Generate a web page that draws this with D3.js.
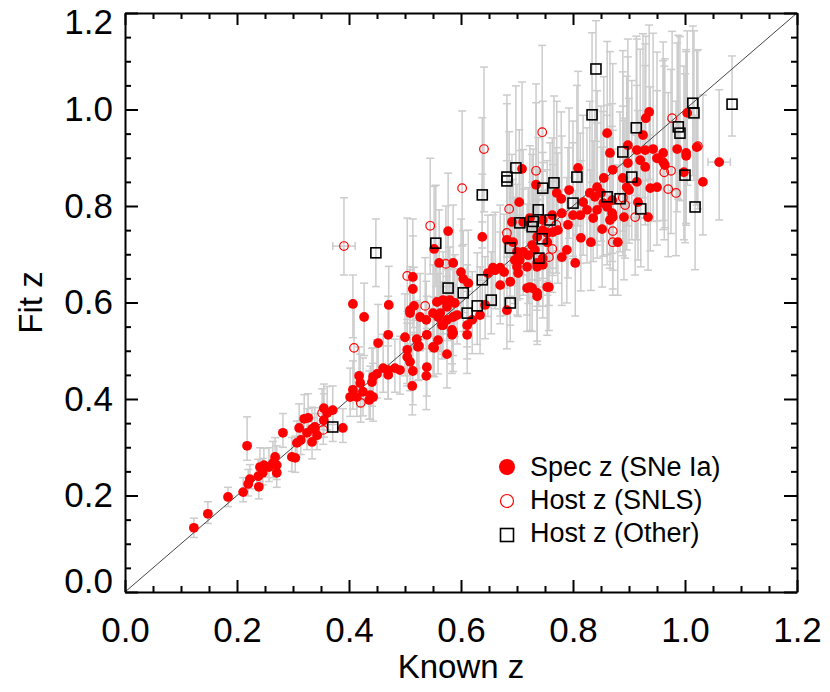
<!DOCTYPE html>
<html>
<head>
    <meta charset="utf-8" />
    <title>Fit z vs Known z</title>
    <script src="https://d3js.org/d3.v7.min.js"></script>
    <style type="text/css">
        body { margin: 0; background: #fff; }
        svg { display: block; }
        .axis path, .axis line { stroke: #000; stroke-width: 2; }
        .axis text { font-family: "Liberation Sans", Arial, sans-serif; font-size: 35px; fill: #000; }
        .ebar { stroke: #cccccc; stroke-width: 1.5; fill: none; }
        .one2one { stroke: #444; stroke-width: 1; }
        .spec { fill: #ff0000; }
        .snls { fill: none; stroke: #ff0000; stroke-width: 1.2; }
        .other { fill: none; stroke: #000; stroke-width: 1.6; }
        .title { font-family: "Liberation Sans", Arial, sans-serif; font-size: 33px; fill: #000; }
        .legend text { font-family: "Liberation Sans", Arial, sans-serif; font-size: 27px; fill: #000; }
    </style>
</head>
<body>
<svg></svg>
<script>

// [known z, fit z, fit error below, fit error above, known error]
var specZ = [
    [0.123,0.133,0.02,0.02],[0.148,0.162,0.02,0.025],[0.184,0.197,0.02,0.02],[0.211,0.207,0.02,0.03],
    [0.220,0.224,0.025,0.03],[0.223,0.234,0.02,0.03],[0.239,0.218,0.025,0.03],[0.218,0.303,0.03,0.06],
    [0.238,0.240,0.025,0.035],[0.241,0.259,0.03,0.04],[0.248,0.263,0.025,0.035],[0.257,0.259,0.03,0.04],
    [0.264,0.267,0.03,0.045],[0.268,0.280,0.025,0.04],[0.271,0.263,0.03,0.04],[0.271,0.247,0.03,0.035],
    [0.246,0.247,0.025,0.03],[0.298,0.280,0.03,0.04],[0.304,0.278,0.03,0.045],[0.282,0.330,0.03,0.04],
    [0.307,0.309,0.03,0.045],[0.314,0.315,0.03,0.04],[0.311,0.340,0.035,0.05],[0.320,0.359,0.035,0.05],
    [0.327,0.361,0.03,0.05],[0.325,0.330,0.035,0.05],[0.334,0.338,0.03,0.045],[0.334,0.311,0.035,0.05],
    [0.343,0.325,0.03,0.045],[0.339,0.342,0.03,0.04],[0.355,0.356,0.035,0.055],[0.355,0.381,0.035,0.05],
    [0.371,0.377,0.03,0.05],[0.361,0.371,0.035,0.055],[0.389,0.340,0.03,0.04],
    [0.407,0.597,0.07,0.06],[0.471,0.595,0.06,0.08],[0.427,0.570,0.08,0.07],[0.509,0.584,0.07,0.09],
    [0.516,0.593,0.06,0.08],[0.470,0.533,0.07,0.08],[0.452,0.516,0.06,0.08],[0.500,0.528,0.08,0.09],
    [0.527,0.570,0.07,0.09],[0.538,0.564,0.06,0.08],[0.550,0.578,0.08,0.10],[0.559,0.570,0.07,0.09],
    [0.568,0.553,0.06,0.08],[0.584,0.543,0.07,0.09],[0.584,0.533,0.08,0.10],[0.593,0.574,0.06,0.09],
    [0.611,0.553,0.07,0.10],[0.611,0.533,0.08,0.09],[0.575,0.493,0.07,0.09],[0.552,0.506,0.06,0.08],
    [0.559,0.522,0.07,0.09],[0.521,0.524,0.06,0.08],[0.525,0.510,0.07,0.09],[0.539,0.533,0.06,0.08],
    [0.504,0.502,0.07,0.08],[0.504,0.487,0.06,0.07],[0.509,0.477,0.06,0.08],[0.514,0.458,0.07,0.08],
    [0.539,0.466,0.06,0.08],[0.538,0.448,0.07,0.08],[0.491,0.460,0.05,0.07],[0.482,0.464,0.05,0.06],
    [0.470,0.460,0.06,0.07],[0.461,0.464,0.05,0.07],[0.470,0.450,0.05,0.06],[0.450,0.452,0.05,0.07],
    [0.443,0.446,0.05,0.06],[0.441,0.435,0.05,0.07],[0.418,0.448,0.05,0.06],[0.420,0.433,0.05,0.06],
    [0.425,0.415,0.05,0.07],[0.407,0.419,0.04,0.06],[0.402,0.404,0.04,0.06],[0.414,0.404,0.04,0.05],
    [0.438,0.408,0.05,0.06],[0.443,0.404,0.05,0.07],[0.436,0.398,0.04,0.06],[0.513,0.427,0.06,0.08],
    [0.577,0.748,0.08,0.12],[0.552,0.711,0.10,0.13],[0.638,0.736,0.09,0.13],[0.720,0.698,0.10,0.14],
    [0.727,0.719,0.09,0.13],[0.754,0.725,0.11,0.15],[0.561,0.682,0.08,0.11],[0.586,0.682,0.09,0.12],
    [0.600,0.663,0.08,0.11],[0.514,0.653,0.09,0.12],[0.514,0.628,0.08,0.11],[0.604,0.649,0.07,0.10],
    [0.613,0.640,0.08,0.11],[0.648,0.661,0.09,0.12],[0.661,0.667,0.08,0.12],[0.670,0.672,0.10,0.13],
    [0.677,0.663,0.09,0.12],[0.670,0.636,0.08,0.11],[0.688,0.643,0.09,0.12],[0.700,0.674,0.10,0.14],
    [0.696,0.688,0.09,0.13],[0.718,0.674,0.10,0.13],[0.736,0.674,0.09,0.14],[0.746,0.678,0.11,0.15],
    [0.718,0.630,0.09,0.12],[0.736,0.613,0.10,0.12],[0.727,0.630,0.09,0.13],[0.754,0.632,0.10,0.13],
    [0.682,0.584,0.08,0.11],[0.643,0.595,0.07,0.10],[0.634,0.574,0.08,0.10],[0.568,0.605,0.07,0.10],
    [0.580,0.605,0.08,0.11],[0.589,0.599,0.07,0.10],[0.557,0.601,0.08,0.11],[0.575,0.591,0.07,0.10],
    [0.563,0.578,0.08,0.10],[0.509,0.578,0.07,0.09],[0.575,0.564,0.07,0.09],[0.586,0.570,0.08,0.10],
    [0.566,0.553,0.07,0.09],[0.586,0.537,0.08,0.10],[0.620,0.564,0.07,0.10],[0.550,0.508,0.06,0.08],
    [0.523,0.508,0.07,0.08],
    [0.709,0.877,0.12,0.18],[0.734,0.844,0.11,0.17],[0.771,0.827,0.12,0.19],[0.779,0.815,0.11,0.18],
    [0.793,0.833,0.10,0.17],[0.809,0.879,0.12,0.20],[0.818,0.808,0.11,0.18],[0.830,0.827,0.10,0.19],
    [0.843,0.839,0.12,0.20],[0.855,0.858,0.11,0.21],[0.871,0.875,0.13,0.22],[0.866,0.910,0.12,0.21],
    [0.889,0.858,0.11,0.22],[0.896,0.839,0.13,0.23],[0.850,0.827,0.10,0.18],[0.870,0.812,0.11,0.20],
    [0.861,0.798,0.12,0.19],[0.871,0.777,0.11,0.18],[0.866,0.771,0.10,0.17],[0.891,0.777,0.13,0.20],
    [0.880,0.725,0.11,0.16],[0.852,0.752,0.12,0.17],[0.832,0.725,0.10,0.15],[0.814,0.734,0.11,0.16],
    [0.843,0.792,0.10,0.18],[0.825,0.792,0.11,0.17],[0.836,0.775,0.09,0.16],[0.813,0.781,0.10,0.17],
    [0.791,0.761,0.11,0.16],[0.800,0.781,0.09,0.15],[0.780,0.785,0.10,0.16],[0.704,0.808,0.10,0.15],
    [0.691,0.767,0.09,0.14],[0.711,0.767,0.11,0.15],[0.723,0.775,0.10,0.15],[0.746,0.771,0.09,0.14],
    [0.763,0.781,0.11,0.16],[0.754,0.744,0.10,0.15],[0.764,0.746,0.09,0.14],[0.773,0.750,0.11,0.16],
    [0.746,0.750,0.10,0.14],[0.736,0.736,0.09,0.14],[0.682,0.730,0.10,0.14],[0.693,0.725,0.09,0.13],
    [0.700,0.705,0.10,0.14],[0.711,0.705,0.09,0.13],[0.705,0.688,0.08,0.12],[0.732,0.709,0.10,0.14],
    [0.736,0.682,0.09,0.13],[0.746,0.692,0.10,0.14],[0.702,0.661,0.09,0.12],[0.657,0.672,0.08,0.11],
    [0.723,0.632,0.09,0.12],[0.736,0.620,0.10,0.13],[0.757,0.632,0.09,0.12],[0.804,0.682,0.11,0.15],
    [0.780,0.694,0.10,0.14],[0.789,0.709,0.11,0.15],
    [0.936,0.995,0.14,0.18],[0.930,0.982,0.13,0.17],[0.925,0.947,0.13,0.21],[0.861,0.951,0.13,0.19],
    [0.898,0.926,0.12,0.22],[0.914,0.916,0.14,0.23],[0.929,0.916,0.13,0.22],[0.943,0.918,0.15,0.24],
    [0.961,0.910,0.14,0.23],[0.986,0.918,0.13,0.22],[1.002,0.910,0.15,0.21],[1.021,0.922,0.12,0.20],
    [0.950,0.899,0.13,0.22],[0.961,0.891,0.14,0.21],[0.920,0.895,0.12,0.23],[0.898,0.889,0.13,0.22],
    [0.929,0.881,0.12,0.21],[0.998,0.870,0.14,0.22],[1.032,0.850,0.11,0.18],[0.914,0.850,0.12,0.20],
    [0.900,0.833,0.11,0.19],[0.938,0.837,0.13,0.21],[0.950,0.839,0.12,0.20],[0.839,0.819,0.10,0.18],
    [0.854,0.806,0.11,0.19],[0.916,0.808,0.12,0.19],[0.934,0.777,0.11,0.17],[0.870,0.785,0.10,0.18],
    [1.004,0.993,0.15,0.17],[1.002,0.904,0.14,0.22],[1.061,0.891,0.12,0.15,0.02],[0.964,0.885,0.13,0.22]
];

var hostSnls = [
    [0.352,0.371,0.035,0.05],[0.354,0.336,0.03,0.045],[0.536,0.593,0.07,0.10],[0.409,0.506,0.08,0.09],
    [0.421,0.392,0.04,0.06],[0.545,0.759,0.10,0.14],[0.682,0.744,0.10,0.15],[0.573,0.680,0.09,0.12],
    [0.504,0.655,0.09,0.12],[0.641,0.918,0.13,0.17],[0.734,0.873,0.12,0.18],[0.871,0.748,0.12,0.17],
    [0.871,0.725,0.11,0.16],[0.686,0.794,0.10,0.16],[0.770,0.761,0.10,0.16],[0.763,0.711,0.09,0.14],
    [0.757,0.694,0.10,0.14],[0.977,0.982,0.15,0.18],[1.023,0.924,0.13,0.20],[0.963,0.870,0.14,0.22],
    [0.975,0.873,0.13,0.21],[0.970,0.835,0.14,0.20],[0.984,0.827,0.13,0.19],[0.889,0.817,0.12,0.19],
    [0.893,0.802,0.11,0.18],[0.911,0.777,0.12,0.17],[0.391,0.717,0.06,0.10,0.02],[0.745,0.953,0.13,0.18],
    [0.602,0.837,0.12,0.16]
];

var hostOther = [
    [0.371,0.342,0.03,0.04],[0.448,0.703,0.07,0.07],[0.555,0.723,0.09,0.12],[0.688,0.713,0.10,0.14],
    [0.745,0.732,0.10,0.14],[0.739,0.692,0.10,0.13],[0.705,0.765,0.10,0.15],[0.729,0.768,0.10,0.15],
    [0.727,0.757,0.11,0.15],[0.577,0.630,0.08,0.11],[0.604,0.620,0.08,0.10],[0.629,0.593,0.08,0.11],
    [0.654,0.605,0.07,0.10],[0.688,0.599,0.08,0.11],[0.611,0.578,0.07,0.10],[0.698,0.879,0.12,0.17],
    [0.682,0.860,0.11,0.17],[0.682,0.852,0.12,0.16],[0.638,0.823,0.11,0.16],[0.746,0.837,0.12,0.18],
    [0.766,0.848,0.11,0.18],[0.807,0.860,0.12,0.19],[0.800,0.806,0.11,0.17],[0.889,0.912,0.13,0.21],
    [0.861,0.819,0.12,0.19],[0.884,0.815,0.11,0.18],[0.738,0.792,0.10,0.15],[0.759,0.771,0.11,0.16],
    [0.638,0.647,0.08,0.12],[0.834,0.989,0.14,0.17],[0.841,1.084,0.15,0.10],[0.913,0.962,0.14,0.19],
    [0.988,0.964,0.15,0.19],[0.991,0.951,0.14,0.20],[1.014,1.013,0.15,0.16],[1.016,0.993,0.14,0.17],
    [1.000,0.864,0.14,0.21],[0.905,0.860,0.13,0.20],[0.921,0.794,0.12,0.18],[1.018,0.798,0.13,0.19],
    [1.084,1.011,0.066,0.10]
];

var majorTicks = [0.0, 0.2, 0.4, 0.6, 0.8, 1.0, 1.2];
var minorTicks = [0.05, 0.1, 0.15, 0.25, 0.3, 0.35, 0.45, 0.5, 0.55, 0.65, 0.7, 0.75,
                  0.85, 0.9, 0.95, 1.05, 1.1, 1.15];

var legendLabels = ['Spec z (SNe Ia)', 'Host z (SNLS)', 'Host z (Other)'];

var width = 830, height = 692;
var mLeft = 125, mRight = 797, mTop = 13, mBottom = 592;

var svg = d3.select('svg')
    .attr('width', width)
    .attr('height', height);

var xScale = d3.scaleLinear().domain([0, 1.2]).range([mLeft, mRight]);
var yScale = d3.scaleLinear().domain([0, 1.2]).range([mBottom, mTop]);

// error bars under everything
var allPts = specZ.concat(hostSnls, hostOther);
var bars = svg.append('g').attr('class', 'ebar');
allPts.forEach(function (d) {
    var cx = xScale(d[0]), y0 = yScale(d[1] - d[2]), y1 = yScale(d[1] + d[3]);
    bars.append('line').attr('x1', cx).attr('x2', cx).attr('y1', y0).attr('y2', y1);
    bars.append('line').attr('x1', cx - 4).attr('x2', cx + 4).attr('y1', y0).attr('y2', y0);
    bars.append('line').attr('x1', cx - 4).attr('x2', cx + 4).attr('y1', y1).attr('y2', y1);
    if (d[4]) {
        var cy = yScale(d[1]), xa = xScale(d[0] - d[4]), xb = xScale(d[0] + d[4]);
        bars.append('line').attr('x1', xa).attr('x2', xb).attr('y1', cy).attr('y2', cy);
        bars.append('line').attr('x1', xa).attr('x2', xa).attr('y1', cy - 4).attr('y2', cy + 4);
        bars.append('line').attr('x1', xb).attr('x2', xb).attr('y1', cy - 4).attr('y2', cy + 4);
    }
});

// one-to-one line
svg.append('line')
    .attr('class', 'one2one')
    .attr('x1', xScale(0)).attr('y1', yScale(0))
    .attr('x2', xScale(1.2)).attr('y2', yScale(1.2));

svg.append('g').selectAll('circle')
    .data(specZ).enter().append('circle')
    .attr('class', 'spec')
    .attr('cx', function (d) { return xScale(d[0]); })
    .attr('cy', function (d) { return yScale(d[1]); })
    .attr('r', 4.9);

svg.append('g').selectAll('circle')
    .data(hostSnls).enter().append('circle')
    .attr('class', 'snls')
    .attr('cx', function (d) { return xScale(d[0]); })
    .attr('cy', function (d) { return yScale(d[1]); })
    .attr('r', 4.3);

svg.append('g').selectAll('rect')
    .data(hostOther).enter().append('rect')
    .attr('class', 'other')
    .attr('x', function (d) { return xScale(d[0]) - 5; })
    .attr('y', function (d) { return yScale(d[1]) - 5; })
    .attr('width', 10).attr('height', 10);

// axes: box with inward ticks
var fmt = d3.format('.1f');
svg.append('g').attr('class', 'axis')
    .attr('transform', 'translate(0,' + mBottom + ')')
    .call(d3.axisBottom(xScale).tickValues(majorTicks).tickSize(-12).tickSizeOuter(0)
        .tickPadding(25).tickFormat(fmt));
svg.append('g').attr('class', 'axis')
    .attr('transform', 'translate(0,' + mTop + ')')
    .call(d3.axisTop(xScale).tickValues(majorTicks).tickSize(-12).tickSizeOuter(0)
        .tickFormat(''));
var yAxis = svg.append('g').attr('class', 'axis')
    .attr('transform', 'translate(' + mLeft + ',0)')
    .call(d3.axisLeft(yScale).tickValues(majorTicks).tickSize(-13).tickSizeOuter(0)
        .tickPadding(12).tickFormat(fmt));
// end labels sit inside the frame range
yAxis.selectAll('.tick text').attr('y', function (d) {
    return d === 0 ? -11 : (d === 1.2 ? 9 : 0);
});
svg.append('g').attr('class', 'axis')
    .attr('transform', 'translate(' + mRight + ',0)')
    .call(d3.axisRight(yScale).tickValues(majorTicks).tickSize(-13).tickSizeOuter(0)
        .tickFormat(''));

// minor ticks
[[d3.axisBottom(xScale), 'translate(0,' + mBottom + ')'],
 [d3.axisTop(xScale), 'translate(0,' + mTop + ')'],
 [d3.axisLeft(yScale), 'translate(' + mLeft + ',0)'],
 [d3.axisRight(yScale), 'translate(' + mRight + ',0)']].forEach(function (a) {
    var g = svg.append('g').attr('class', 'axis').attr('transform', a[1])
        .call(a[0].tickValues(minorTicks).tickSize(-6).tickFormat(''));
    g.select('.domain').remove();
});

svg.append('text').attr('class', 'title')
    .attr('x', (mLeft + mRight) / 2).attr('y', 678)
    .attr('text-anchor', 'middle')
    .text('Known z');

svg.append('text').attr('class', 'title')
    .attr('transform', 'translate(42,' + (mTop + mBottom) / 2 + ') rotate(-90)')
    .attr('text-anchor', 'middle')
    .text('Fit z');

// legend
var legend = svg.append('g').attr('class', 'legend');
legend.append('circle').attr('cx', 507).attr('cy', 467).attr('r', 8).attr('class', 'spec');
legend.append('circle').attr('cx', 507).attr('cy', 501).attr('r', 6.5).attr('class', 'snls');
legend.append('rect').attr('x', 500.5).attr('y', 528.5).attr('width', 13).attr('height', 13)
    .attr('class', 'other');
legendLabels.forEach(function (t, i) {
    legend.append('text').attr('x', 530).attr('y', 476 + i * 33).text(t);
});

</script>
</body>
</html>
